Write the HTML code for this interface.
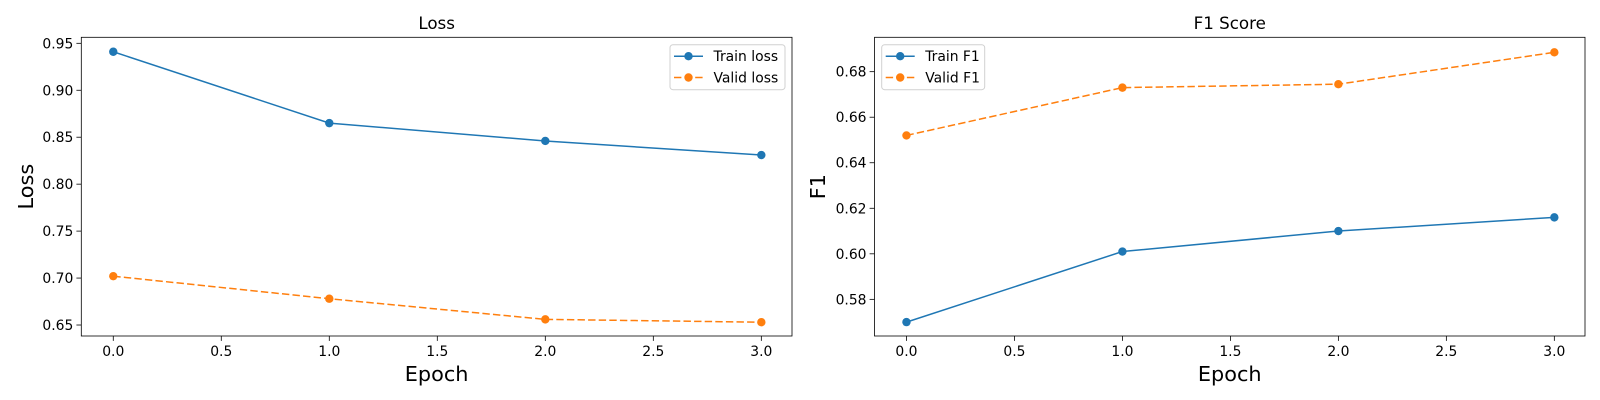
<!DOCTYPE html>
<html><head><meta charset="utf-8"><style>body{margin:0;background:#fff}svg{display:block;font-family:"DejaVu Sans","Liberation Sans",sans-serif}</style></head>
<body>
<svg id="c" width="1600" height="400" xmlns="http://www.w3.org/2000/svg"></svg>
<script>
const epochs=[0,1,2,3];
const trainLoss=[0.941,0.865,0.846,0.831];
const validLoss=[0.702,0.678,0.656,0.653];
const trainF1=[0.570,0.601,0.610,0.616];
const validF1=[0.652,0.673,0.6745,0.6885];
const xTicks=[0,0.5,1,1.5,2,2.5,3];
const lossTicks=[0.65,0.70,0.75,0.80,0.85,0.90,0.95];
const f1Ticks=[0.58,0.60,0.62,0.64,0.66,0.68];
const NS="http://www.w3.org/2000/svg";
const svg=document.getElementById('c');
function el(t,a,p){const e=document.createElementNS(NS,t);for(const k in a)e.setAttribute(k,a[k]);(p||svg).appendChild(e);return e;}
function panel(cfg){
 const g=el('g',{});
 
 
 const L=cfg.x0,R=cfg.x1,T=37.3,B=336;
 const xmin=-0.148,xmax=3.142;
 const sx=v=>L+(v-xmin)/(xmax-xmin)*(R-L);
 const sy=v=>B-(v-cfg.ymin)/(cfg.ymax-cfg.ymin)*(B-T);
 xTicks.forEach(t=>{const x=sx(t);
  const tk=el('line',{x1:x,x2:x,y1:B,y2:B+4.9,stroke:'#000','stroke-width':0.8},g);
  
  const tx=el('text',{x:x,y:B+20,'text-anchor':'middle','font-size':13.9,fill:'#000'},g);tx.textContent=t.toFixed(1);
  });
 cfg.ticks.forEach(t=>{const y=sy(t);
  const tk=el('line',{x1:L-4.9,x2:L,y1:y,y2:y,stroke:'#000','stroke-width':0.8},g);
  
  const tx=el('text',{x:L-8,y:y+5,'text-anchor':'end','font-size':13.9,fill:'#000'},g);tx.textContent=t.toFixed(2);
  });
 cfg.series.forEach(s=>{
  const pts=epochs.map((e,i)=>sx(e)+','+sy(s.v[i])).join(' ');
  const pl=el('polyline',{points:pts,fill:'none',stroke:s.c,'stroke-width':1.5,'stroke-dasharray':s.dash?'7.4,3.2':'none'},g);
  
  epochs.forEach((e,i)=>{const c=el('circle',{cx:sx(e),cy:sy(s.v[i]),r:4.2,fill:s.c},g);
   });
 });
 const fr=el('rect',{x:L,y:T,width:R-L,height:B-T,fill:'none',stroke:'#000','stroke-width':0.8},g);
 
 const ti=el('text',{x:(L+R)/2,y:29,'text-anchor':'middle','font-size':16.7},g);ti.textContent=cfg.title;
 
 const xl=el('text',{x:(L+R)/2,y:381,'text-anchor':'middle','font-size':20.8},g);xl.textContent='Epoch';
 
 const yl=el('text',{x:0,y:0,'text-anchor':'middle','font-size':20.8,transform:`translate(${cfg.ylx},${(T+B)/2}) rotate(-90)`},g);yl.textContent=cfg.ylabel;
 
 const lg=el('g',{},g);
 const lx=cfg.legX,ly=44.7;
 el('rect',{x:lx,y:ly,width:cfg.legW,height:45,rx:3,fill:'#fff',stroke:'#ccc','stroke-width':1,opacity:0.9},lg);
 cfg.series.forEach((s,i)=>{const y=ly+11.5+i*21.3;
  const e=el('g',{},lg);
  el('line',{x1:lx+4,x2:lx+33,y1:y,y2:y,stroke:s.c,'stroke-width':1.5,'stroke-dasharray':s.dash?'7.4,3.2':'none'},e);
  el('circle',{cx:lx+18.5,cy:y,r:4.2,fill:s.c},e);
  const t=el('text',{x:lx+43.5,y:y+5,'font-size':13.9},e);t.textContent=s.label;});
}
panel({name:'loss-panel',x0:81.3,x1:792,ymin:0.6383,ymax:0.9564,ticks:lossTicks,title:'Loss',ylabel:'Loss',ylx:33,legX:670,legW:115,
 series:[{id:'train-loss',v:trainLoss,c:'#1f77b4',dash:false,label:'Train loss'},{id:'valid-loss',v:validLoss,c:'#ff7f0e',dash:true,label:'Valid loss'}]});
panel({name:'f1-panel',x0:874.5,x1:1585,ymin:0.5639,ymax:0.6951,ticks:f1Ticks,title:'F1 Score',ylabel:'F1',ylx:825,legX:881.7,legW:103,
 series:[{id:'train-f1',v:trainF1,c:'#1f77b4',dash:false,label:'Train F1'},{id:'valid-f1',v:validF1,c:'#ff7f0e',dash:true,label:'Valid F1'}]});
</script>
</body></html>
